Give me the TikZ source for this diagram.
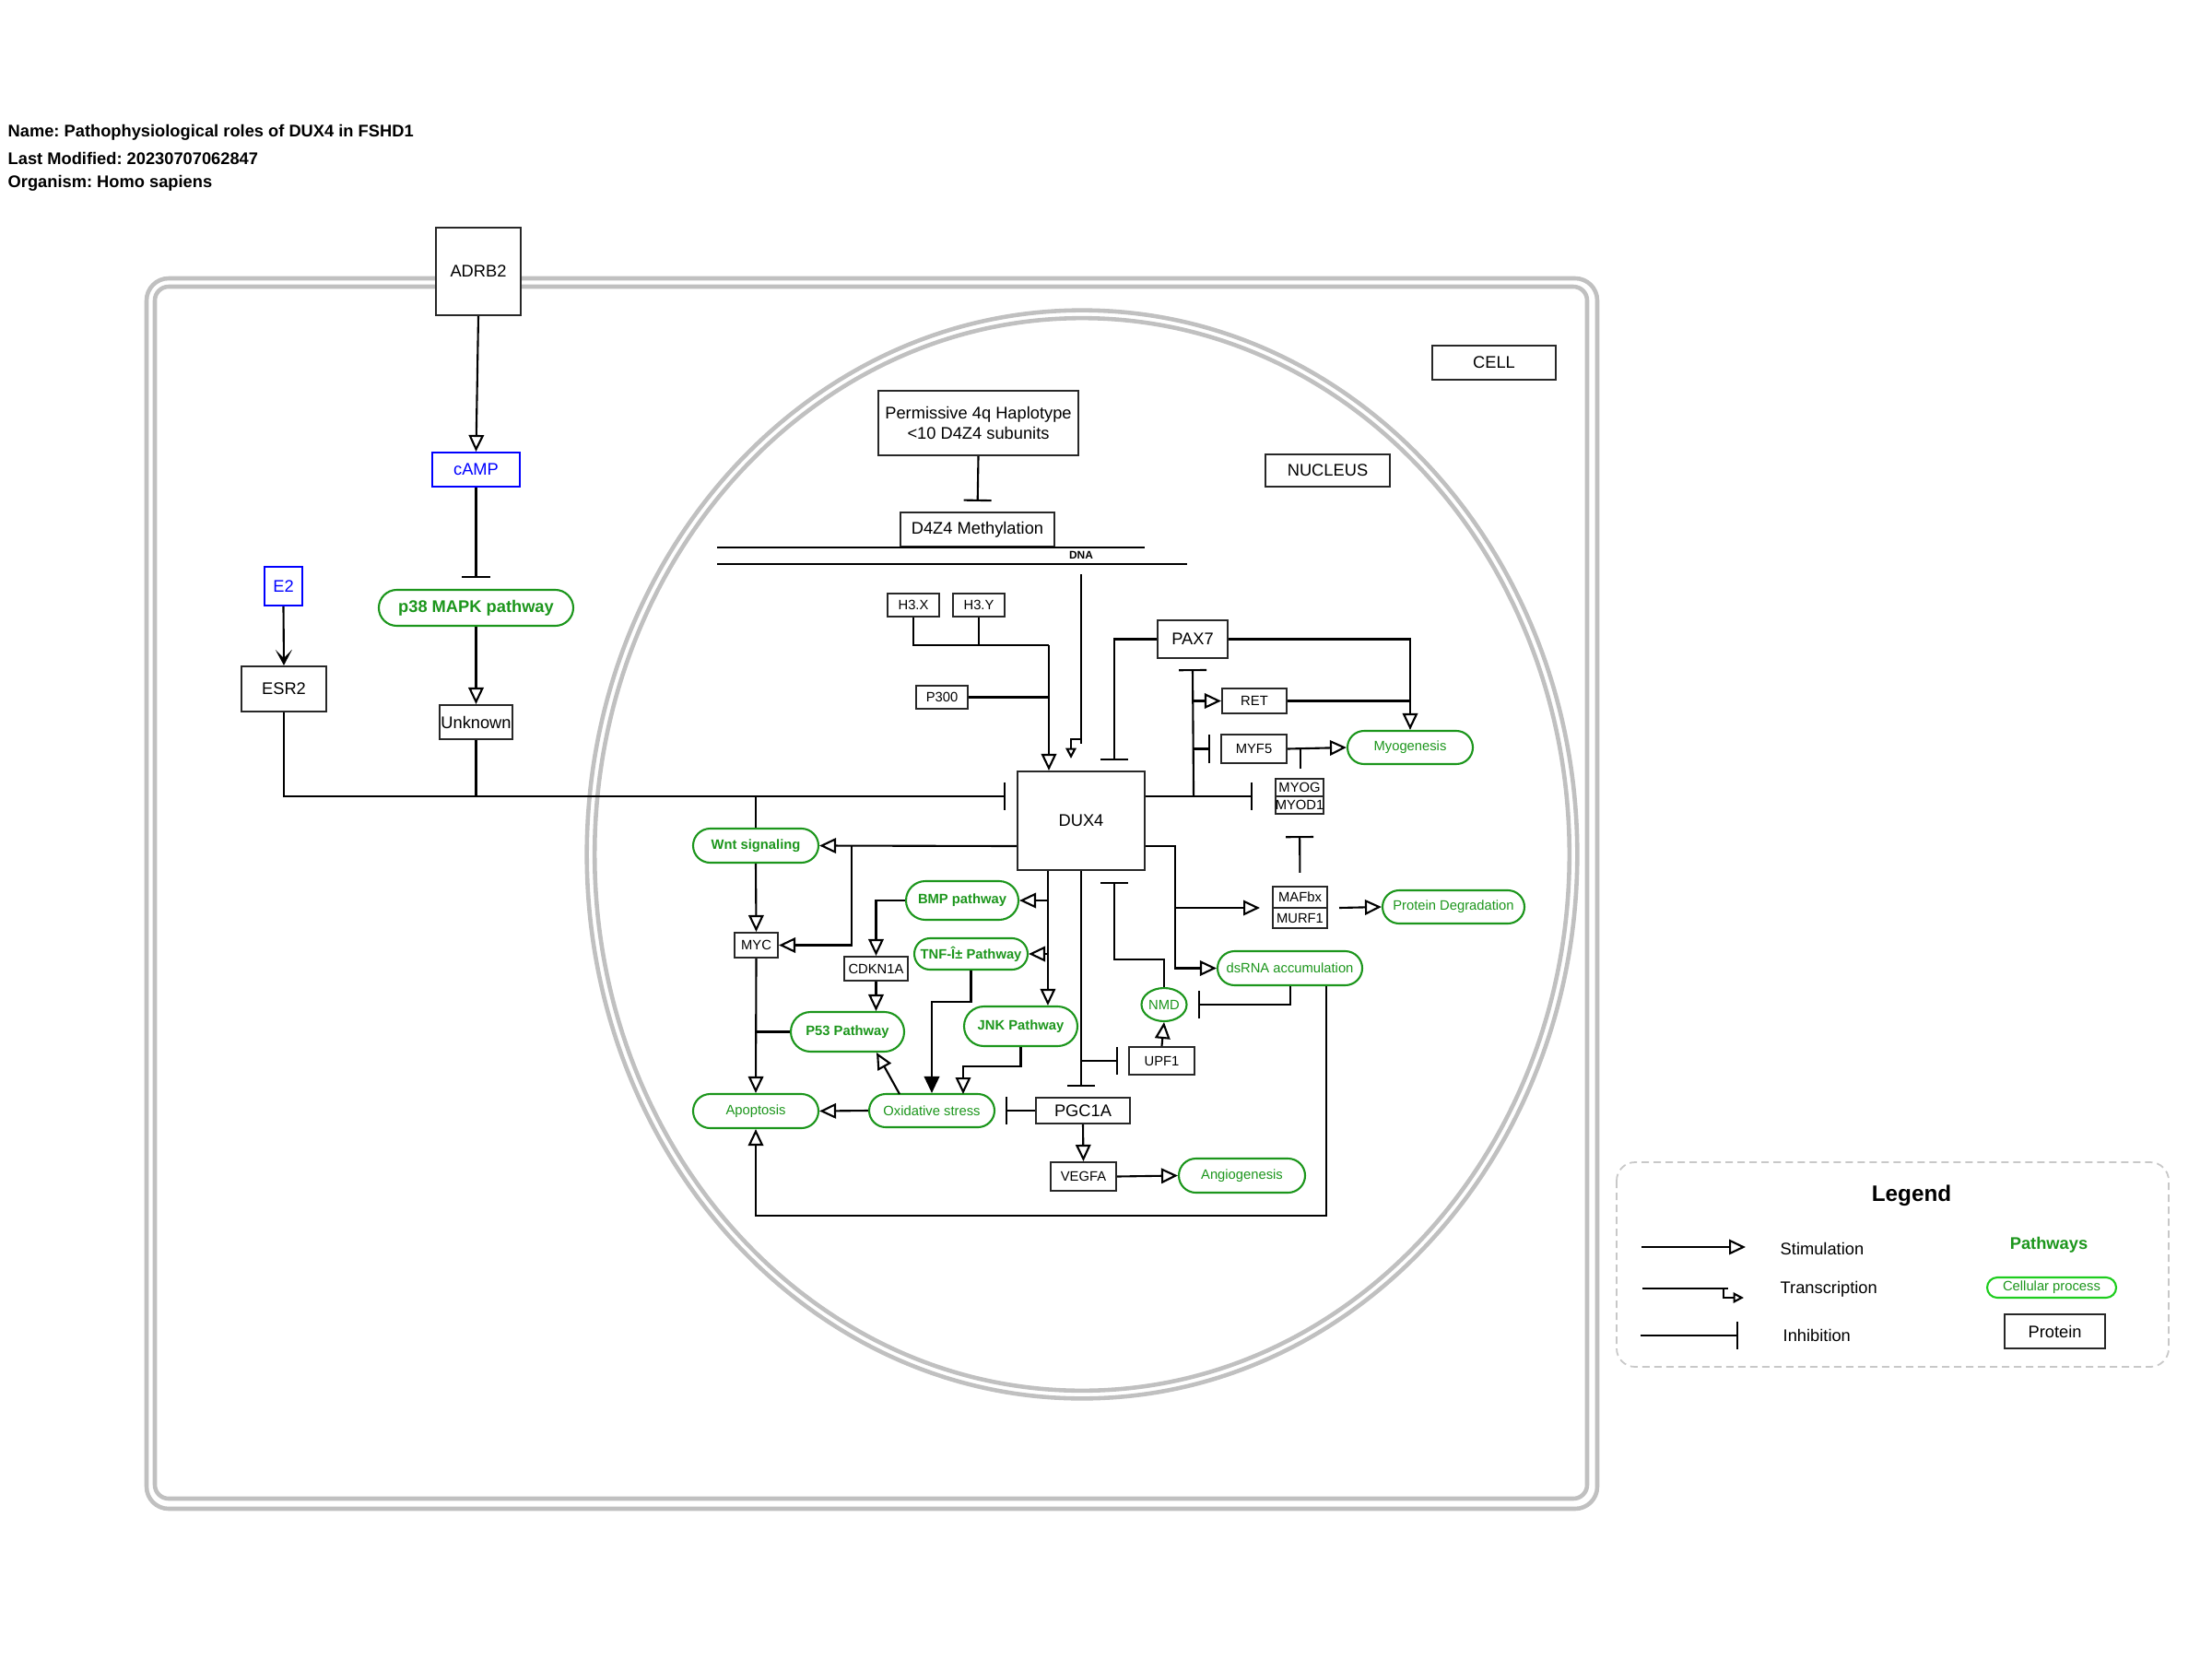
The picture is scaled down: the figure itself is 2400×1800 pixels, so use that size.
\documentclass[tikz,border=0pt]{standalone}
\usepackage{fontspec}
\setmainfont{Liberation Sans}
\usetikzlibrary{arrows.meta,shapes.misc,shapes.geometric,calc}
\frenchspacing

\definecolor{memgray}{RGB}{192,192,192}
\definecolor{pwgreen}{RGB}{28,150,28}
\definecolor{cpgreen}{RGB}{30,205,30}
\definecolor{molblue}{RGB}{0,0,255}
\definecolor{edgegray}{RGB}{40,40,40}
\definecolor{leggray}{RGB}{200,200,200}

\newcommand\fsMain{\fontsize{5.2pt}{6.1pt}\selectfont}
\newcommand\fsSmall{\fontsize{4.2pt}{5pt}\selectfont}
\newcommand\fsTiny{\fontsize{3.4pt}{4pt}\selectfont}
\newcommand\fsLegend{\fontsize{6.9pt}{8pt}\selectfont}

\tikzset{
  sz/.style 2 args={minimum width=#1*0.01cm, minimum height=#2*0.01cm},
  prot/.style={draw=edgegray, line width=0.6pt, fill=white, inner sep=0pt, align=center, font=\fsMain},
  sprot/.style={prot, font=\fsSmall},
  mol/.style={prot, draw=molblue, text=molblue},
  pw/.style={rounded rectangle, draw=pwgreen, line width=0.6pt, fill=white, text=pwgreen, inner sep=0pt, font=\fsSmall},
  pwb/.style={pw, font=\fsSmall\bfseries},
  memb/.style={draw=memgray, line width=1.3pt},
  link/.style={draw=black, line width=0.6pt},
  stim/.style={link, -{Triangle[length=0.18cm, width=0.165cm, fill=white, line width=0.6pt]}},
  stimfill/.style={link, -{Triangle[length=0.18cm, width=0.165cm, line width=0.6pt]}},
  txn/.style={link, -{Triangle[length=0.115cm, width=0.115cm, fill=white, line width=0.6pt]}},
  inh/.style={link, -{Bar[width=0.3cm, line width=0.6pt]}},
  bind/.style={link, -{Stealth[length=0.17cm, width=0.18cm, inset=0.09cm]}},
  label/.style={anchor=west, inner sep=0pt, font=\fsMain},
}

\begin{document}
\begin{tikzpicture}[x=0.01cm, y=-0.01cm]
\fill[white] (0,0) rectangle (2400,1800);
\useasboundingbox (0,0) rectangle (2400,1800);

% header
\node[label, font=\fsMain\bfseries] (tname) at (8,144) {Name: Pathophysiological roles of DUX4 in FSHD1};
\node[label, font=\fsMain\bfseries] (tdate) at (8,172) {Last Modified: 20230707062847};
\node[label, font=\fsMain\bfseries] (torg) at (8,199) {Organism: Homo sapiens};

% cell membrane and nuclear envelope
\draw[memb, rounded corners=0.24cm] (159,302) rectangle (1733,1637);
\draw[memb, rounded corners=0.15cm] (168,311) rectangle (1722,1626);
\draw[memb] (1174,927) ellipse [x radius=5.37cm, y radius=5.90cm];
\draw[memb] (1174,927) ellipse [x radius=5.285cm, y radius=5.815cm];

% compartment labels
\node[prot, sz={134}{37}] (cell) at (1621,393.5) {CELL};
\node[prot, sz={135}{35}] (nucleus) at (1440.5,510.5) {NUCLEUS};

% outside the nucleus
\node[prot, sz={92}{95}] (adrb2) at (519,294.5) {ADRB2};
\node[mol, sz={95}{37}] (camp) at (516.5,509.5) {cAMP};
\node[pw, font=\fsMain\bfseries, sz={211}{39}] (p38) at (516.5,659.5) {p38 MAPK pathway};
\node[prot, sz={79}{37}] (unknown) at (516.5,783.5) {Unknown};
\node[mol, sz={41}{42}] (e2) at (307.5,636) {E2};
\node[prot, sz={92}{49}] (esr2) at (308,747.5) {ESR2};

% chromatin
\node[prot, sz={217}{70}] (perm) at (1061.5,459) {Permissive 4q Haplotype\\<10 D4Z4 subunits};
\node[prot, sz={167}{37}] (d4z4) at (1060.5,574.5) {D4Z4 Methylation};
\draw[link] (778,594) -- (1242,594);
\draw[link] (778,612) -- (1288,612);
\node[font=\fsTiny\bfseries, inner sep=0pt] (dna) at (1173,602) {DNA};

% nuclear proteins
\node[sprot, sz={56}{25}] (h3x) at (991,656.5) {H3.X};
\node[sprot, sz={56}{25}] (h3y) at (1062,656.5) {H3.Y};
\node[sprot, sz={56}{25}] (p300) at (1022,756.5) {P300};
\node[prot, sz={138}{107}] (dux4) at (1173,890.5) {DUX4};
\node[prot, sz={76}{41}] (pax7) at (1294,693.5) {PAX7};
\node[sprot, sz={70}{27}] (ret) at (1361,760.5) {RET};
\node[sprot, sz={71}{31}] (myf5) at (1360.5,812.5) {MYF5};
\node[pw, sz={136}{36}] (myogen) at (1530,811) {Myogenesis};
\node[sprot, sz={52}{19}] (myog) at (1410,854.5) {MYOG};
\node[sprot, sz={52}{19}] (myod1) at (1410,873.5) {MYOD1};
\node[sprot, sz={59}{23}] (mafbx) at (1410.5,973.5) {MAFbx};
\node[sprot, sz={59}{22}] (murf1) at (1410.5,996) {MURF1};
\node[pw, sz={154}{36}] (protdeg) at (1577,984) {Protein Degradation};
\node[pw, sz={157}{37}] (dsrna) at (1399.5,1050.5) {dsRNA accumulation};
\node[ellipse, draw=pwgreen, line width=0.6pt, fill=white, text=pwgreen, inner sep=0pt, font=\fsSmall, sz={49}{36}] (nmd) at (1263,1090) {NMD};
\node[sprot, sz={71}{30}] (upf1) at (1260.5,1151) {UPF1};
\node[prot, sz={102}{28}] (pgc1a) at (1175,1205) {PGC1A};
\node[sprot, sz={71}{31}] (vegfa) at (1175.5,1276.5) {VEGFA};
\node[pw, sz={137}{37}] (angio) at (1347.5,1275.5) {Angiogenesis};
\node[pwb, sz={136}{37}] (wnt) at (820,917.5) {Wnt signaling};
\node[sprot, sz={47}{27}] (myc) at (820.5,1025.5) {MYC};
\node[pwb, sz={122}{42}] (bmp) at (1044,977) {BMP pathway};
\node[sprot, sz={69}{26}] (cdkn1a) at (950.5,1051) {CDKN1A};
\node[pwb, sz={123}{34}] (tnf) at (1053.5,1035) {TNF-Î± Pathway};
\node[pwb, sz={123}{43}] (jnk) at (1107.5,1113.5) {JNK Pathway};
\node[pwb, sz={123}{43}] (p53) at (919.5,1119.5) {P53 Pathway};
\node[pw, sz={136}{37}] (apop) at (820,1205.5) {Apoptosis};
\node[pw, sz={136}{36}] (oxid) at (1011,1205) {Oxidative stress};

% junction points
\coordinate (hin) at ($(dux4.west)+(-12,-26.5)$);
\coordinate (hj) at (1138,700);
\coordinate (dnasrc) at (1173,623);
\coordinate (rj) at ($(dux4.east)+(52,-26.5)$);
\coordinate (lr) at ($(dux4.east)+(32,27.5)$);
\coordinate (bl) at ($(dux4.south west)+(34,0)$);
\coordinate (mm) at (1381,985);

% signalling from the membrane
\draw[stim] (adrb2.south) -- (camp.north);
\draw[inh, shorten >=0.12cm] (camp.south) -- (p38.north);
\draw[stim] (p38.south) -- (unknown.north);
\draw[bind] (e2.south) -- (esr2.north);
\draw[inh] (esr2.south) |- (hin);
\draw[link] (unknown.south) -- (unknown.south |- hin);
\draw[link] (wnt.north) -- (wnt.north |- hin);

% chromatin regulation of DUX4
\draw[inh, shorten >=0.11cm] (perm.south) -- (d4z4.north);
\draw[link] (h3x.south) |- (hj);
\draw[link] (h3y.south) -- (h3y.south |- hj);
\draw[link] (p300.east) -- (p300.east -| hj);
\draw[stim] (hj) -- (hj |- dux4.north);
\draw[link] (dnasrc) -- (1173,807);
\draw[txn] (1173,802) -| (1162,823);

% PAX7 and myogenesis
\draw[inh] (pax7.west) -| ($(dux4.north east)+(-34,-11)$);
\draw[stim] (pax7.east) -| (myogen.north);
\draw[link] (ret.east) -- (ret.east -| myogen.north);
\draw[inh] (dux4.east |- rj) -- ($(myog.west |- rj)+(-24,0)$);
\draw[inh] (rj) -- ($(pax7.south)+(0,11)$);
\draw[stim] (rj |- ret.west) -- (ret.west);
\draw[inh] (rj |- myf5.west) -- ($(myf5.west)+(-11,0)$);
\draw[stim] (myf5.east) -- (myogen.west);
\draw[link] ($(myf5.east)+(14,0)$) -- +(0,21);
\draw[inh, shorten <=0.14cm, shorten >=0.23cm] (mafbx.north) -- (myod1.south);

% atrophy and dsRNA
\draw[stim] (dux4.east |- lr) -- (lr) |- (dsrna.west);
\draw[stim] (lr |- mm) -- ($(mm)+(-14,0)$);
\draw[stim] ($(mm)+(72,0)$) -- (protdeg.west);
\draw[inh] ($(dsrna.south)+(0.5,0)$) |- ($(nmd.east)+(11.5,0)$);
\draw[stim] ($(dsrna.south)+(39.5,0)$) -- ($(dsrna.south)+(39.5,249)$) -| (apop.south);
\draw[inh] (nmd.north) |- ($(dux4.south east)+(-34,96)$) -- ($(dux4.south east)+(-34,12)$);
\draw[stim] (upf1.north) -- (nmd.south);

% PGC1A branch
\draw[inh] (dux4.south) -- ($(dux4.south |- pgc1a.north)+(0,-11)$);
\draw[inh] (dux4.south |- upf1.west) -- ($(upf1.west)+(-11,0)$);
\draw[inh] (pgc1a.west) -- ($(oxid.east)+(11,0)$);
\draw[stim] (pgc1a.south) -- (vegfa.north);
\draw[stim] (vegfa.east) -- (angio.west);

% pathways downstream of DUX4
\draw[stim] ($(dux4.west)+(0,27.5)$) -- (wnt.east);
\draw[stim] (924,918) |- (myc.east);
\draw[stim] (wnt.south) -- (myc.north);
\draw[stim] (myc.south) -- (apop.north);
\draw[link] (myc.south |- p53.west) -- (p53.west);
\draw[stim] (bl) -- (bl |- jnk.north);
\draw[stim] (bl |- bmp.east) -- (bmp.east);
\draw[stim] (bl |- tnf.east) -- (tnf.east);
\draw[stim] (bmp.west) -| (cdkn1a.north);
\draw[stim] (cdkn1a.south) -- (cdkn1a.south |- p53.north);
\draw[stimfill] (tnf.south) |- (1011,1087) -- (oxid.north);
\draw[stim] (jnk.south) |- (1045,1157) -- (1045,1187);
\draw[stim] (oxid.west) -- (apop.east);
\draw[stim] (976,1187) -- (951,1142);

% legend
\draw[leggray, line width=0.5pt, dash pattern=on 0.08cm off 0.05cm, rounded corners=0.2cm] (1754,1261) rectangle (2353,1483);
\node[font=\fsLegend\bfseries, inner sep=0pt] (legtitle) at (2074,1297) {Legend};
\coordinate (ls1) at (1781,1353);
\coordinate (le1) at (1894,1353);
\draw[stim] (ls1) -- (le1);
\node[label] (lstim) at (1931,1355) {Stimulation};
\coordinate (ls2) at (1782,1398);
\draw[link] (ls2) -- (1875,1398);
\draw[txn] (1870,1398) |- (1892,1408);
\node[label] (ltx) at (1931,1399) {Transcription};
\coordinate (ls3) at (1780,1449);
\draw[inh] (ls3) -- (1886,1449);
\node[label] (linh) at (1934,1449) {Inhibition};
\node[font=\fsMain\bfseries, text=pwgreen, inner sep=0pt] (lpw) at (2223,1351) {Pathways};
\node[rounded rectangle, draw=cpgreen, line width=0.6pt, text=pwgreen, inner sep=0pt, font=\fsSmall, sz={140}{22}] (lcp) at (2226,1397) {Cellular process};
\node[prot, sz={109}{37}] (lprot) at (2229.5,1444.5) {Protein};
\end{tikzpicture}
\end{document}
